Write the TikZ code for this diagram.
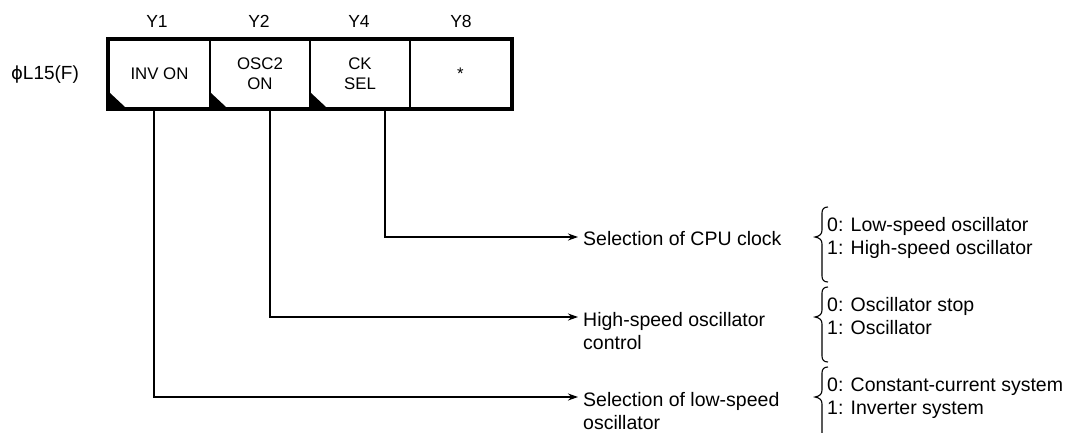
\documentclass[tikz,border=0pt]{standalone}
\usepackage{fontspec}
\setmainfont{Liberation Sans}
\newfontfamily\symfont{DejaVu Sans}
\usetikzlibrary{arrows.meta}
\begin{document}
\begin{tikzpicture}[x=1pt,y=-1pt,
  cellbox/.style={draw, line width=1.5pt, minimum height=68pt, inner sep=0pt, align=center,
    font=\fontsize{16.8}{20}\selectfont},
  hdr/.style={font=\fontsize{17.5}{20}\selectfont, inner sep=0pt},
  lbl/.style={anchor=base west, align=left, inner sep=0pt, font=\fontsize{19.5}{23}\selectfont},
  opt/.style={anchor=base west, align=left, inner sep=0pt, font=\fontsize{19.5}{23}\selectfont},
  conn/.style={line width=1.2pt, -{Stealth[length=10pt,width=7pt]}},
  brc/.style={line width=1.1pt},
  tri/.style={fill=black}
]
\useasboundingbox (0,0) rectangle (1072,432);
% register cells
\node[cellbox, minimum width=101pt] (c1) at (159.5,74) {INV ON};
\node[cellbox, minimum width=100pt] (c2) at (260,74) {OSC2\\ON};
\node[cellbox, minimum width=100pt] (c3) at (360,74) {CK\\SEL};
\node[cellbox, minimum width=101pt] (c4) at (460.5,74) {*};
\draw[line width=4pt] (c1.north west) rectangle (c4.south east);
% corner triangles
\foreach \c in {c1,c2,c3}{
  \fill[tri] ([shift={(1.5,-2)}]\c.south west) -- ++(0,-14) -- ++(15,14) -- cycle;
}
% headers
\node[hdr] (h1) at (157,21) {Y1};
\node[hdr] (h2) at (259,21) {Y2};
\node[hdr] (h4) at (359,21) {Y4};
\node[hdr] (h8) at (461,21) {Y8};
\node[hdr, font=\fontsize{19}{22}\selectfont] (reg) at (45,75) {{\symfont\fontsize{18}{22}\selectfont ϕ}L15(F)};
% connector ends
\coordinate (t3) at (578,237);
\coordinate (t2) at (578,317);
\coordinate (t1) at (578,397);
\draw[conn] ([xshift=-5.5pt]c1.south) -- ([xshift=-5.5pt]c1.south |- t1) -- (t1);
\draw[conn] ([xshift=10pt]c2.south) -- ([xshift=10pt]c2.south |- t2) -- (t2);
\draw[conn] ([xshift=25pt]c3.south) -- ([xshift=25pt]c3.south |- t3) -- (t3);
% labels (base anchor = last line)
\node[lbl] (l3) at (583,245) {Selection of CPU clock};
\node[lbl] (l2) at (583,349) {High-speed oscillator\\control};
\node[lbl] (l1) at (583,429) {Selection of low-speed\\oscillator};
% options
\node[opt] (o3) at (827,254) {0: Low-speed oscillator\\1: High-speed oscillator};
\node[opt] (o2) at (827,334) {0: Oscillator stop\\1: Oscillator};
\node[opt] (o1) at (827,414) {0: Constant-current system\\1: Inverter system};
% braces
\foreach \a in {237,317,397}{
  \draw[brc] (828,\a-30) .. controls (824,\a-30) and (822,\a-28) .. (822,\a-24)
    -- (822,\a-7) .. controls (822,\a-3) and (820,\a-1) .. (815,\a)
    .. controls (820,\a+1) and (822,\a+3) .. (822,\a+7)
    -- (822,\a+39) .. controls (822,\a+43) and (824,\a+45) .. (828,\a+45);
}
\end{tikzpicture}
\end{document}
